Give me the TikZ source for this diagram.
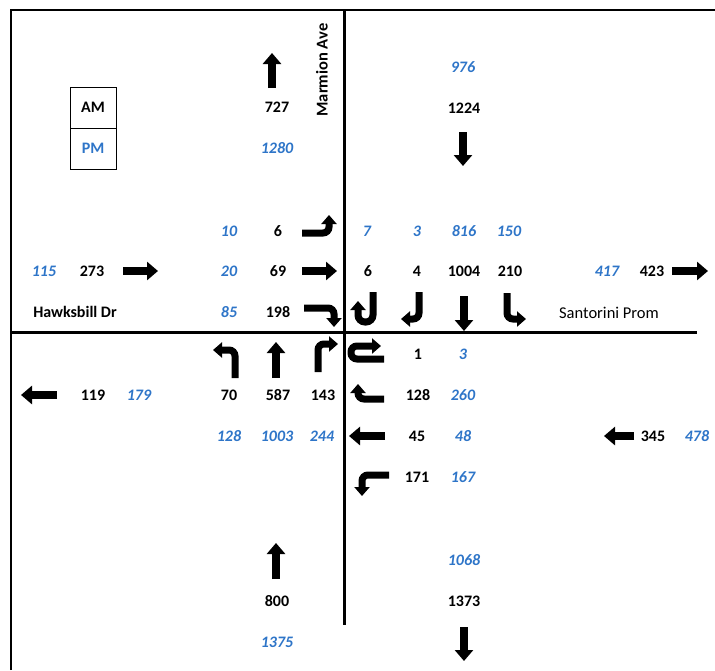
\documentclass[tikz,border=0pt]{standalone}
\usepackage{fontspec}
\setmainfont{Carlito}
\usetikzlibrary{arrows.meta}
\definecolor{pmblue}{RGB}{46,117,200}
\begin{document}
\begin{tikzpicture}[x=1pt,y=-1pt,
  every node/.style={inner sep=0pt,font=\fontsize{16}{18}\selectfont},
  am/.style={font=\fontsize{16}{18}\selectfont\bfseries},
  pm/.style={font=\fontsize{16}{18}\selectfont\bfseries\itshape,text=pmblue},
  street/.style={font=\fontsize{16.5}{18}\selectfont\bfseries},
  bigarrow/.style={line width=8.5pt,-{Triangle[length=11pt,width=18pt]}},
  turnarrow/.style={line width=7pt,rounded corners=6pt,-{Triangle[length=9pt,width=15pt]}},
  frame/.style={line width=2pt},
  road/.style={line width=3pt}]
\useasboundingbox (0,0) rectangle (715,670);
% outer frame and the two road centre lines
\draw[frame] (11,670) -- (11,10) -- (715,10);
\draw[road] (344,10) -- (344,625);
\draw[road] (11,332) -- (697,332);

% legend
\draw[line width=1pt] (70,87) rectangle (116,169);
\draw[line width=1pt] (70,128) -- (116,128);
\node[am] (legam) at (93,107) {AM};
\node[am,text=pmblue] (legpm) at (93,148) {PM};

% street names
\node[street,rotate=90] (marmion) at (322,70) {Marmion Ave};
\node[street,font=\fontsize{16}{18}\selectfont\bfseries] (hawksbill) at (75,312) {Hawksbill Dr};
\node[font=\fontsize{16.5}{18}\selectfont] (santorini) at (609,313) {Santorini Prom};

% north leg: departing and approaching totals
\draw[bigarrow] (272,88) -- (272,53);
\node[am] (nout) at (277,107) {727};
\node[pm] (noutpm) at (277,148) {1280};
\node[pm] (ninpm) at (463,67) {976};
\node[am] (nin) at (464,108) {1224};
\draw[bigarrow] (463,132) -- (463,166);

% west approach (eastbound)
\node[pm] (wbpm) at (44,271) {115};
\node[am] (wb) at (92,271) {273};
\draw[bigarrow] (123,271) -- (158,271);
\node[pm] (ebl-pm) at (229,231) {10};
\node[am] (ebl) at (278,231) {6};
\draw[turnarrow] (302,233) -- (329,233) -- (329,215);
\node[pm] (ebt-pm) at (229,271) {20};
\node[am] (ebt) at (278,271) {69};
\draw[bigarrow] (302,271) -- (337,271);
\node[pm] (ebr-pm) at (229,312) {85};
\node[am] (ebr) at (278,312) {198};
\draw[turnarrow] (304,308) -- (334,308) -- (334,327);

% north approach (southbound)
\node[pm] (sbu-pm) at (367,231) {7};
\node[pm] (sbr-pm) at (417,231) {3};
\node[pm] (sbt-pm) at (464,231) {816};
\node[pm] (sbl-pm) at (509,231) {150};
\node[am] (sbu) at (368,271) {6};
\node[am] (sbr) at (417,271) {4};
\node[am] (sbt) at (464,271) {1004};
\node[am] (sbl) at (510,271) {210};
\draw[turnarrow,rounded corners=7pt] (373,292) -- (373,322) -- (358,322) -- (358,301);
\draw[turnarrow] (419,292) -- (419,319) -- (401,319);
\draw[bigarrow] (464,296) -- (464,331);
\draw[turnarrow] (507,293) -- (507,319) -- (526,319);

% east leg departing
\node[pm] (eoutpm) at (607,271) {417};
\node[am] (eout) at (652,271) {423};
\draw[bigarrow] (672,271) -- (708,271);

% south approach (northbound)
\draw[turnarrow] (235,378) -- (235,350) -- (213,350);
\draw[bigarrow] (276,378) -- (276,342);
\draw[turnarrow] (318,372) -- (318,344) -- (338,344);
\node[am] (nbl) at (229,395) {70};
\node[am] (nbt) at (278,395) {587};
\node[am] (nbr) at (323,395) {143};
\node[pm] (nbl-pm) at (229,436) {128};
\node[pm] (nbt-pm) at (277,436) {1003};
\node[pm] (nbr-pm) at (322,436) {244};

% west leg departing
\draw[bigarrow] (57,395) -- (21,395);
\node[am] (wout) at (93,395) {119};
\node[pm] (woutpm) at (139,395) {179};

% south leg
\draw[bigarrow] (276,579) -- (276,543);
\node[am] (sin) at (277,601) {800};
\node[pm] (sinpm) at (277,642) {1375};
\node[pm] (soutpm) at (464,560) {1068};
\node[am] (sout) at (464,601) {1373};
\draw[bigarrow] (464,627) -- (464,661);

% east approach (westbound)
\draw[turnarrow] (384,359) -- (351,359) -- (351,346) -- (381,346);
\node[am] (wbu) at (418,354) {1};
\node[pm] (wbu-pm) at (463,354) {3};
\draw[turnarrow] (384,399) -- (358,399) -- (358,384);
\node[am] (wbl) at (418,395) {128};
\node[pm] (wbl-pm) at (463,395) {260};
\draw[bigarrow] (385,436) -- (349,436);
\node[am] (wbt) at (417,436) {45};
\node[pm] (wbt-pm) at (463,436) {48};
\draw[turnarrow] (389,475) -- (362,475) -- (362,496);
\node[am] (wbr) at (417,477) {171};
\node[pm] (wbr-pm) at (463,477) {167};
\draw[bigarrow] (634,436) -- (604,436);
\node[am] (ein) at (653,436) {345};
\node[pm] (einpm) at (697,436) {478};
\end{tikzpicture}
\end{document}
